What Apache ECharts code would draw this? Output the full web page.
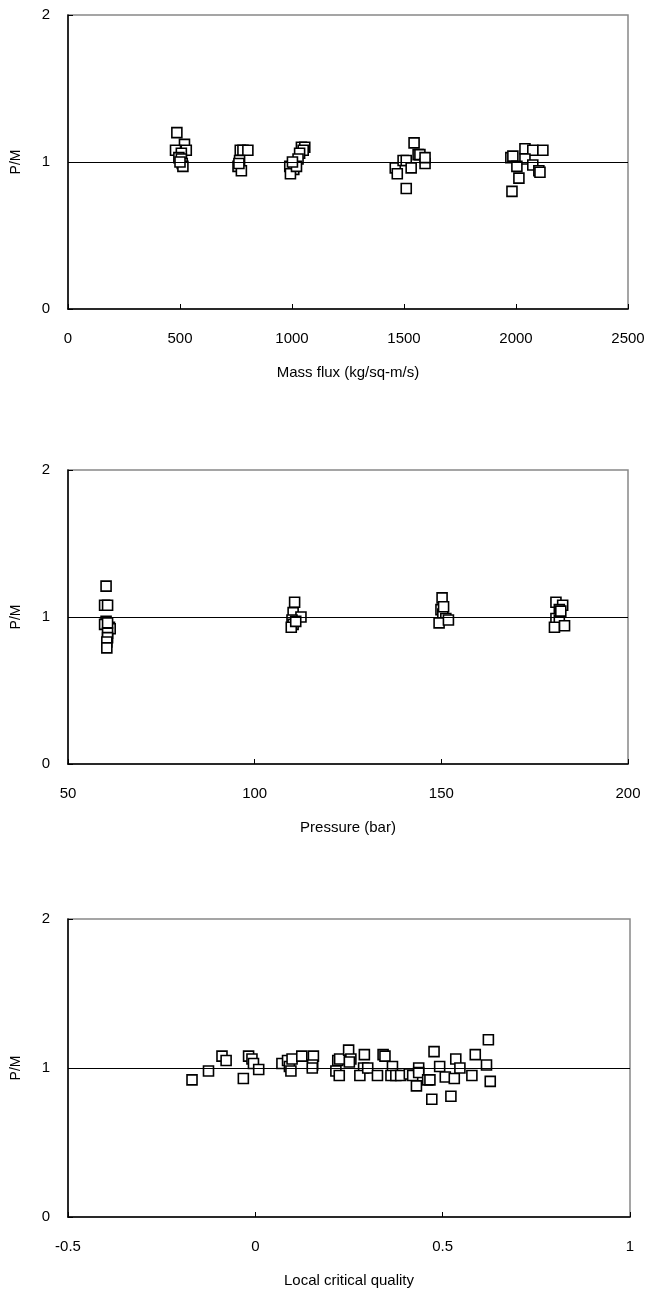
<!DOCTYPE html>
<html>
<head>
<meta charset="utf-8">
<script src="https://cdn.jsdelivr.net/npm/echarts@6/dist/echarts.min.js"></script>
<style>
html,body{margin:0;padding:0;background:#fff;}
#c{width:654px;height:1297px;}
</style>
</head>
<body>
<div id="c"></div>
<script>
// ---- Data ----
const yTicks = [0, 1, 2];
const massTicks = [0, 500, 1000, 1500, 2000, 2500];
const presTicks = [50, 100, 150, 200];
const qualTicks = [-0.5, 0, 0.5, 1];

const massFlux = [486,520,480,528,506,495,506,510,513,500,
  769,781,803,766,759,774,763,
  1042,1057,1050,1034,1027,990,1008,993,1020,1002,
  1461,1470,1496,1510,1510,1532,1545,1563,1571,1594,1594,
  1977,1986,2040,2075,2120,2040,2004,2075,2102,2107,2013,1982];
const massPM = [1.20,1.12,1.08,1.08,1.06,1.03,1.02,0.99,0.97,1.00,
  1.08,1.08,1.08,1.01,0.97,0.94,0.99,
  1.10,1.10,1.08,1.06,1.02,0.97,0.95,0.92,0.97,1.00,
  0.96,0.92,1.01,1.01,0.82,0.96,1.13,1.05,1.05,0.99,1.03,
  1.03,1.04,1.09,1.08,1.08,1.02,0.97,0.98,0.94,0.93,0.89,0.80];

const pressure = [60.2,59.8,60.6,60.2,59.8,61.1,61.3,60.6,60.6,60.4,60.4,60.6,
  110.7,110.3,112.4,110,110.3,109.8,111,
  150.2,149.9,150.4,151.2,149.4,150.6,151.9,
  180.7,182.5,181.6,180.7,181.6,180.3,183,182];
const presPM = [1.21,1.08,1.08,0.97,0.95,0.93,0.92,0.89,0.86,0.83,0.79,0.96,
  1.10,1.03,1.00,0.98,0.95,0.93,0.97,
  1.13,1.05,1.02,0.99,0.96,1.07,0.98,
  1.10,1.08,1.05,0.99,0.98,0.93,0.94,1.04];

const quality = [-0.169,-0.125,-0.089,-0.078,-0.032,-0.018,-0.009,-0.005,0.009,
  0.071,0.086,0.091,0.095,0.098,0.124,0.155,0.153,0.152,
  0.220,0.215,0.224,0.225,0.249,0.255,0.251,0.291,0.289,0.279,
  0.300,0.326,0.341,0.346,0.366,0.362,0.375,0.388,0.411,0.420,
  0.436,0.436,0.430,0.460,0.466,0.477,0.471,0.492,0.507,0.522,
  0.535,0.531,0.546,0.578,0.587,0.617,0.622,0.627];
const qualPM = [0.92,0.98,1.08,1.05,0.93,1.08,1.06,1.03,0.99,
  1.03,1.05,1.01,0.98,1.06,1.08,1.08,1.02,1.00,
  1.05,0.98,0.95,1.06,1.12,1.06,1.04,1.09,1.00,0.95,
  1.00,0.95,1.09,1.08,1.01,0.95,0.95,0.95,0.96,0.95,
  1.00,0.97,0.88,0.92,0.92,1.11,0.79,1.01,0.94,0.81,
  1.06,0.93,1.00,0.95,1.09,1.02,1.19,0.91];

const xNames = ['Mass flux (kg/sq-m/s)', 'Pressure (bar)', 'Local critical quality'];
const yName = 'P/M';

// ---- Chart ----
const FONT = '"Liberation Sans", Arial, sans-serif';
const pair = (xs, ys) => xs.map((x, i) => [x, ys[i]]);

const grids = [
  {left: 68, top: 15, width: 560, height: 294},
  {left: 68, top: 470, width: 560, height: 294},
  {left: 68, top: 919, width: 562, height: 298}
];
const xCfg = [
  {min: 0, max: 2500, interval: 500},
  {min: 50, max: 200, interval: 50},
  {min: -0.5, max: 1, interval: 0.5}
];

const option = {
  animation: false,
  backgroundColor: '#fff',
  grid: grids.map(g => Object.assign({show: true, borderColor: '#888', borderWidth: 1.5, backgroundColor: 'transparent'}, g)),
  xAxis: xCfg.map((c, i) => ({
    type: 'value', gridIndex: i, min: c.min, max: c.max, interval: c.interval,
    name: xNames[i], nameLocation: 'middle', nameGap: 56,
    nameTextStyle: {fontFamily: FONT, fontSize: 15, color: '#000'},
    axisLine: {onZero: false, lineStyle: {color: '#000', width: 1.5}},
    axisTick: {inside: true, length: 5, lineStyle: {color: '#000'}},
    axisLabel: {fontFamily: FONT, fontSize: 15, color: '#000', margin: 22,
      formatter: v => String(v)},
    splitLine: {show: false}
  })),
  yAxis: [0, 1, 2].map(i => ({
    type: 'value', gridIndex: i, min: 0, max: 2, interval: 1,
    name: yName, nameLocation: 'middle', nameGap: 45, nameRotate: 90,
    nameTextStyle: {fontFamily: FONT, fontSize: 14, color: '#000'},
    axisLine: {onZero: false, lineStyle: {color: '#000', width: 1.5}},
    axisTick: {inside: true, length: 5, lineStyle: {color: '#000'}},
    axisLabel: {fontFamily: FONT, fontSize: 15, color: '#000', margin: 18},
    splitLine: {show: false}
  })),
  series: [[massFlux, massPM], [pressure, presPM], [quality, qualPM]].map((d, i) => ({
    type: 'scatter', xAxisIndex: i, yAxisIndex: i,
    data: pair(d[0], d[1]),
    symbol: 'rect', symbolSize: 10,
    itemStyle: {color: '#fff', borderColor: '#000', borderWidth: 1.6, opacity: 1},
    markLine: {
      silent: true, symbol: 'none', label: {show: false},
      lineStyle: {color: '#000', width: 1, type: 'solid'},
      data: [{yAxis: 1}]
    }
  }))
};

const chart = echarts.init(document.getElementById('c'), null, {renderer: 'canvas'});
chart.setOption(option);
</script>
</body>
</html>
